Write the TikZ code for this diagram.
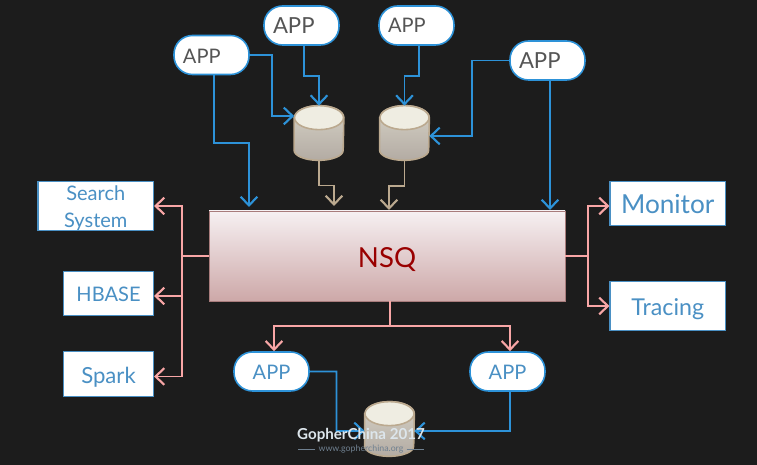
\documentclass[tikz,border=0pt]{standalone}
\usepackage{fontspec}
\setmainfont{Lato}
\usetikzlibrary{arrows.meta}

\definecolor{bgdark}{HTML}{1C1C1C}
\definecolor{linkblue}{HTML}{2D92D8}
\definecolor{linkpink}{HTML}{F8A6A6}
\definecolor{linktan}{HTML}{BBA98F}
\definecolor{textblue}{HTML}{4A90C4}
\definecolor{textgray}{HTML}{555555}
\definecolor{nsqred}{HTML}{990000}
\definecolor{nsqedge}{HTML}{A87C7C}
\definecolor{nsqtop}{HTML}{F6F0F2}
\definecolor{nsqbottom}{HTML}{CDA8A8}
\definecolor{dbupper}{HTML}{D6D2C6}
\definecolor{dblower}{HTML}{B3ABA3}
\definecolor{dbcap}{HTML}{EFEDE2}
\definecolor{markwhite}{HTML}{DDE6EC}
\definecolor{markgray}{HTML}{6F8090}

\newcommand{\lowered}[2]{\raisebox{-#1}[\height][\depth]{#2}}

\tikzset{
    appnode/.style={draw=linkblue, line width=0.9pt, fill=white, rounded corners=0.37cm, minimum width=1.5cm, minimum height=0.78cm, inner sep=0pt},
    appleft/.style={appnode, text=textgray, text width=1.14cm, align=left, inner xsep=0.18cm},
    sysnode/.style={draw=textblue, line width=0.6pt, fill=white, text=textblue, inner sep=0pt, align=center},
    dbnode/.style={minimum width=0.98cm, minimum height=1.08cm, inner sep=0pt},
    dbbody/.style={draw=linktan, line width=0.9pt, top color=dbupper, bottom color=dblower},
    dbtop/.style={draw=linktan, line width=0.9pt, fill=dbcap},
    link/.style={line width=1pt, -{Straight Barb[length=5pt, width=9.5pt, line width=1.2pt]}},
    plain/.style={line width=1pt},
}

\begin{document}
\begin{tikzpicture}
    \fill[bgdark] (0,0) rectangle (15.14,9.3);
    \useasboundingbox (0,0) rectangle (15.14,9.3);

    % NSQ
    \node[draw=nsqedge, line width=0.5pt, top color=nsqtop, bottom color=nsqbottom, minimum width=7.12cm, minimum height=1.8cm, text=nsqred, font=\fontsize{15.7}{20}\selectfont] (nsq) at (7.74,4.18) {\lowered{2.2pt}{NSQ}};

    % Apps
    \node[appleft, font=\fontsize{11.4}{14}\selectfont] (app1) at (4.23,8.2) {\lowered{0.5pt}{APP}};
    \node[appleft, font=\fontsize{12.6}{14}\selectfont] (app2) at (6.03,8.79) {APP};
    \node[appleft, font=\fontsize{11.4}{14}\selectfont] (app3) at (8.33,8.79) {APP};
    \node[appleft, font=\fontsize{12.6}{14}\selectfont] (app4) at (10.95,8.09) {APP};
    \node[appnode, text=textblue, font=\fontsize{11.4}{14}\selectfont] (app5) at (5.43,1.87) {\lowered{0.5pt}{APP}};
    \node[appnode, text=textblue, font=\fontsize{11.4}{14}\selectfont] (app6) at (10.15,1.87) {\lowered{0.5pt}{APP}};

    % Stores
    \node[dbnode] (db1) at (6.38,6.64) {};
    \node[dbnode] (db2) at (8.09,6.64) {};
    \node[dbnode] (db3) at (7.79,0.72) {};
    \foreach \n in {db1,db2,db3} {
        \draw[dbbody] ([yshift=-0.24cm]\n.north west) -- ([yshift=0.2cm]\n.south west) arc (180:360:0.49 and 0.2) -- ([yshift=-0.24cm]\n.north east) arc (0:180:0.49 and 0.24) -- cycle;
        \draw[dbtop] ([yshift=-0.24cm]\n.north) ellipse [x radius=0.49, y radius=0.24];
    }

    % Systems
    \node[sysnode, minimum width=2.31cm, minimum height=0.99cm, font=\fontsize{11.4}{15.3}\selectfont] (search) at (1.915,5.18) {\lowered{1.3pt}{Search}\\\lowered{1.3pt}{System}};
    \node[sysnode, minimum width=1.8cm, minimum height=0.89cm, font=\fontsize{11.4}{14}\selectfont] (hbase) at (2.17,3.43) {\lowered{0.6pt}{HBASE}};
    \node[sysnode, minimum width=1.8cm, minimum height=0.89cm, font=\fontsize{12.6}{14}\selectfont] (spark) at (2.17,1.82) {\lowered{1.7pt}{Spark}};
    \node[sysnode, minimum width=2.31cm, minimum height=0.89cm, font=\fontsize{14.9}{18}\selectfont] (monitor) at (13.355,5.23) {\lowered{0.6pt}{Monitor}};
    \node[sysnode, minimum width=2.31cm, minimum height=0.99cm, font=\fontsize{13.2}{14}\selectfont] (tracing) at (13.355,3.18) {\lowered{1.7pt}{Tracing}};

    % Free ends and junctions
    \coordinate (in1) at (4.98,5.16);
    \coordinate (in2) at (6.68,5.18);
    \coordinate (in3) at (7.78,5.10);
    \coordinate (in4) at (11.0,5.10);
    \coordinate (lbus) at (3.64,4.18);
    \coordinate (rbus) at (11.76,4.18);
    \coordinate (bbus) at (7.8,2.78);

    % Edges into NSQ and stores
    \draw[link, linkblue] ([xshift=0.05cm]app1.south) |- (4.98,6.44) -- (in1);
    \draw[link, linkblue] (app1.east) -| (5.44,6.98) -- ([yshift=0.34cm]db1.west);
    \draw[link, linkblue] ([xshift=0.05cm]app2.south) |- (6.38,7.78) -- (db1.north);
    \draw[link, linkblue] ([xshift=0.05cm]app3.south) |- (8.09,7.78) -- (db2.north);
    \draw[link, linkblue] (app4.west) -| (9.44,6.58) -- ([yshift=-0.06cm]db2.east);
    \draw[link, linkblue] ([xshift=0.05cm]app4.south) -- (in4);
    \draw[link, linktan] (db1.south) |- (6.68,5.59) -- (in2);
    \draw[link, linktan] (db2.south) |- (7.78,5.58) -- (in3);

    % Edges out of NSQ
    \draw[plain, linkpink] (nsq.west) -- (lbus);
    \draw[link, linkpink] (lbus) |- (search.east);
    \draw[link, linkpink] (lbus) |- ([yshift=-0.05cm]hbase.east);
    \draw[link, linkpink] (lbus) |- ([yshift=-0.05cm]spark.east);
    \draw[plain, linkpink] (nsq.east) -- (rbus);
    \draw[link, linkpink] (rbus) |- ([yshift=-0.05cm]monitor.west);
    \draw[link, linkpink] (rbus) |- (tracing.west);
    \draw[plain, linkpink] ([xshift=0.06cm]nsq.south) -- (bbus);
    \draw[link, linkpink] (bbus) -| ([xshift=0.05cm]app5.north);
    \draw[link, linkpink] (bbus) -| ([xshift=0.05cm]app6.north);

    % Bottom store
    \draw[link, linkblue] (app5.east) -| (6.73,0.68) -- ([yshift=-0.04cm]db3.west);
    \draw[link, linkblue] ([xshift=0.05cm]app6.south) |- ([yshift=-0.04cm]db3.east);

    % Watermark
    \node[text=markwhite, font=\fontsize{8.6}{10}\selectfont\bfseries, inner sep=0pt] (mark) at (7.22,0.59) {GopherChina 2017};
    \node[text=markgray, font=\fontsize{5}{7}\selectfont, inner sep=0pt] (site) at (7.22,0.32) {www.gopherchina.org};
    \draw[markgray, line width=0.4pt] ([xshift=-0.06cm]site.west) -- ++(-0.34,0);
    \draw[markgray, line width=0.4pt] ([xshift=0.06cm]site.east) -- ++(0.34,0);
\end{tikzpicture}
\end{document}
